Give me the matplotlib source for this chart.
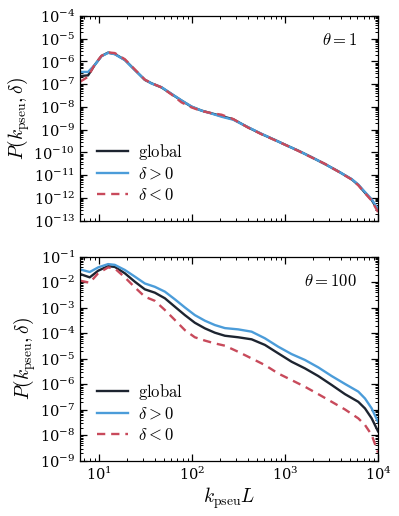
import matplotlib
matplotlib.use("Agg")
import numpy as np
import matplotlib.pyplot as plt
from matplotlib.ticker import LogLocator, NullFormatter

plt.rcParams["mathtext.fontset"] = "cm"
plt.rcParams["font.family"] = "serif"
plt.rcParams["font.serif"] = ["DejaVu Serif"]

# values, as log10 exponents
logk_top = [0.8, 0.885, 0.957, 1.029, 1.1, 1.172, 1.28, 1.387, 1.495, 1.567,
            1.674, 1.781, 1.889, 1.997, 2.104, 2.212, 2.319, 2.444, 2.605, 2.749,
            2.892, 3.007, 3.143, 3.287, 3.43, 3.573, 3.717, 3.788, 3.86, 3.932, 4.0]
logp_top_global = [-6.64, -6.61, -6.15, -5.76, -5.61, -5.67, -5.93, -6.37, -6.81, -6.96,
                   -7.14, -7.43, -7.72, -7.99, -8.16, -8.28, -8.40, -8.54, -8.90, -9.19,
                   -9.45, -9.67, -9.92, -10.21, -10.51, -10.83, -11.18, -11.43, -11.77, -12.09, -12.55]
logp_top_pos = [-6.46, -6.46, -6.15, -5.77, -5.62, -5.68, -5.94, -6.38, -6.80, -6.97,
                -7.13, -7.42, -7.71, -7.98, -8.16, -8.29, -8.43, -8.56, -8.89, -9.18,
                -9.45, -9.67, -9.92, -10.21, -10.51, -10.83, -11.17, -11.41, -11.74, -12.06, -12.48]
logp_top_neg = [-6.89, -6.67, -6.12, -5.75, -5.60, -5.63, -5.90, -6.35, -6.80, -6.95,
                -7.14, -7.45, -7.80, -8.02, -8.18, -8.27, -8.34, -8.53, -8.91, -9.20,
                -9.46, -9.67, -9.93, -10.22, -10.50, -10.84, -11.19, -11.44, -11.79, -12.12, -12.62]

logk_bot = [0.8, 0.903, 0.993, 1.1, 1.172, 1.28, 1.387, 1.495, 1.602, 1.71,
            1.817, 1.925, 2.032, 2.14, 2.247, 2.355, 2.498, 2.642, 2.785, 2.928,
            3.072, 3.215, 3.358, 3.502, 3.645, 3.788, 3.86, 3.932, 4.0]
logp_bot_global = [-1.68, -1.81, -1.55, -1.37, -1.40, -1.65, -1.98, -2.28, -2.41, -2.63,
                   -2.96, -3.29, -3.59, -3.81, -3.98, -4.10, -4.16, -4.24, -4.46, -4.79,
                   -5.12, -5.38, -5.68, -6.03, -6.39, -6.69, -6.95, -7.34, -7.85]
logp_bot_pos = [-1.50, -1.60, -1.42, -1.29, -1.32, -1.52, -1.78, -2.05, -2.18, -2.37,
                -2.67, -2.99, -3.29, -3.51, -3.68, -3.80, -3.85, -3.94, -4.20, -4.53,
                -4.82, -5.05, -5.34, -5.68, -5.99, -6.29, -6.56, -6.95, -7.48]
logp_bot_neg = [-1.94, -2.02, -1.65, -1.42, -1.46, -1.81, -2.20, -2.57, -2.73, -3.09,
                -3.48, -3.88, -4.16, -4.29, -4.40, -4.49, -4.73, -4.99, -5.25, -5.58,
                -5.84, -6.10, -6.39, -6.69, -6.99, -7.34, -7.60, -7.99, -8.68]

c_glob = "#1d2430"
c_pos = "#4b9cd9"
c_neg = "#c84a5b"

fig = plt.figure(figsize=(3.99, 5.16), dpi=100)
ax1 = fig.add_axes([0.2005, 0.5723, 0.7469, 0.3967])
ax2 = fig.add_axes([0.2005, 0.1072, 0.7469, 0.3953])

panels = [
    (ax1, logk_top, logp_top_global, logp_top_pos, logp_top_neg, (1e-13, 1e-4), r"$\theta=1$"),
    (ax2, logk_bot, logp_bot_global, logp_bot_pos, logp_bot_neg, (1e-9, 1e-1), r"$\theta=100$"),
]

for ax, lk, pg, pp, pn, ylim, lab in panels:
    k = 10.0 ** np.array(lk)
    ax.plot(k, 10.0 ** np.array(pg), color=c_glob, lw=1.7, label=r"$\mathrm{global}$")
    ax.plot(k, 10.0 ** np.array(pp), color=c_pos, lw=1.7, label=r"$\delta>0$")
    ax.plot(k, 10.0 ** np.array(pn), color=c_neg, lw=1.7, ls=(0, (3.5, 2.5)), label=r"$\delta<0$")
    ax.set_xscale("log")
    ax.set_yscale("log")
    ax.set_xlim(2 * np.pi, 1e4)
    ax.set_ylim(*ylim)
    ax.yaxis.set_major_locator(LogLocator(base=10, numticks=30))
    ax.yaxis.set_minor_locator(LogLocator(base=10, subs=np.arange(2, 10), numticks=30))
    ax.yaxis.set_minor_formatter(NullFormatter())
    ax.xaxis.set_minor_locator(LogLocator(base=10, subs=np.arange(2, 10), numticks=30))
    ax.tick_params(which="both", direction="in", top=True, right=True, labelsize=10.5)
    ax.tick_params(which="major", length=5, width=0.9)
    ax.tick_params(which="minor", length=2.5, width=0.7)
    for s in ax.spines.values():
        s.set_linewidth(0.9)
    ax.set_ylabel(r"$P(k_{\rm pseu},\delta)$", fontsize=14, labelpad=1)
    ax.text(0.93, 0.88, lab, transform=ax.transAxes, ha="right", va="center", fontsize=12)
    ax.legend(loc="lower left", frameon=False, fontsize=12, handlelength=1.9,
              handletextpad=0.6, labelspacing=0.25, borderaxespad=0.6)

ax1.tick_params(labelbottom=False)
ax2.set_xlabel(r"$k_{\rm pseu}L$", fontsize=14, labelpad=2)

fig.savefig("out.png", dpi=100)
